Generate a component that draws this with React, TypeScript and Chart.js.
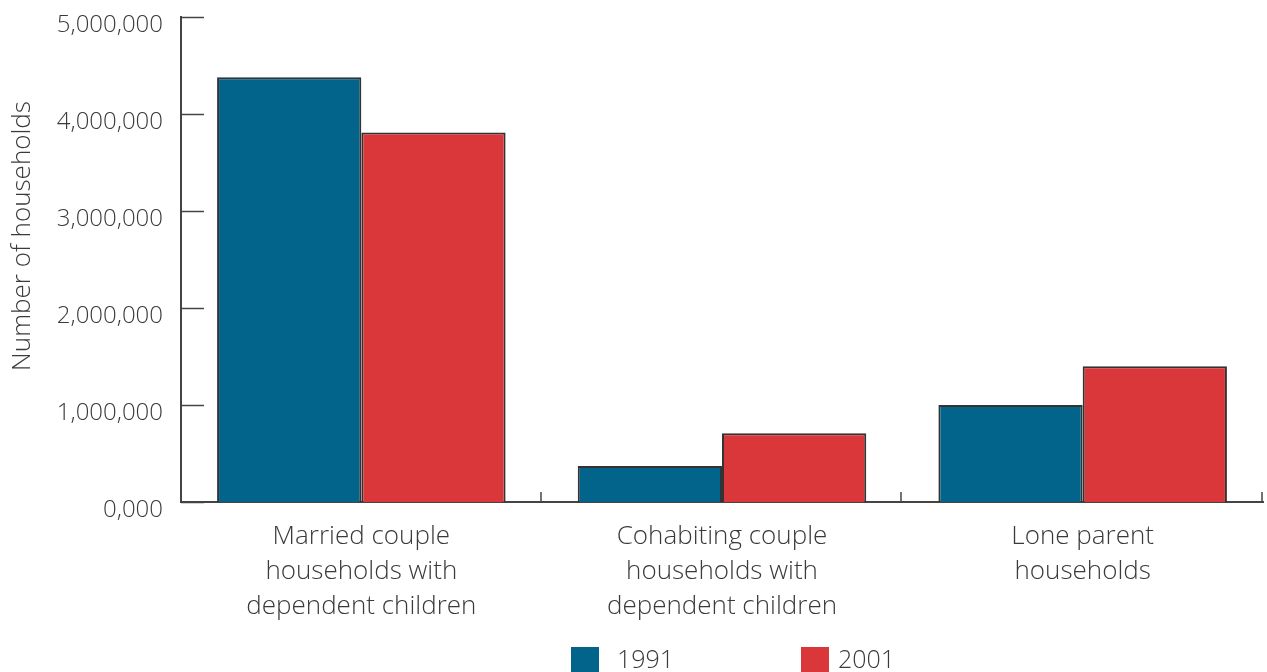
import React, { useEffect, useRef } from "react";
import { Chart, registerables } from "chart.js";

Chart.register(...registerables);

const categories: string[][] = [
  ["Married couple", "households with", "dependent children"],
  ["Cohabiting couple", "households with", "dependent children"],
  ["Lone parent", "households"],
];
const series1991: number[] = [4380000, 370000, 1000000];
const series2001: number[] = [3810000, 710000, 1400000];
const seriesNames: string[] = ["1991", "2001"];
const yTickLabels: string[] = ["0,000", "1,000,000", "2,000,000", "3,000,000", "4,000,000", "5,000,000"];
const yTitle = "Number of households";

const BLUE = "#02638B";
const RED = "#DA373B";
const AXIS = "#444444";
const TEXT = "#3a3a3a";
const FONT = "'Open Sans', 'DejaVu Sans', sans-serif";

const innerTicks = {
  id: "innerTicks",
  afterDraw(chart: any) {
    const ctx = chart.ctx;
    const area = chart.chartArea;
    const y = chart.scales.y;
    const x = chart.scales.x;
    ctx.save();
    ctx.strokeStyle = AXIS;
    ctx.lineWidth = 1.5;
    y.ticks.forEach((_t: any, i: number) => {
      const py = Math.round(y.getPixelForTick(i)) + 0.5;
      ctx.beginPath();
      ctx.moveTo(area.left, py);
      ctx.lineTo(area.left + 23, py);
      ctx.stroke();
    });
    const n = categories.length;
    const half = (x.getPixelForValue(1) - x.getPixelForValue(0)) / 2;
    for (let i = 0; i < n; i++) {
      const px = Math.round(x.getPixelForValue(i) + half) - 1;
      ctx.beginPath();
      ctx.moveTo(px, area.bottom);
      ctx.lineTo(px, area.bottom - 10);
      ctx.stroke();
    }
    // y-axis title
    ctx.save();
    ctx.translate(23, 236);
    ctx.rotate(-Math.PI / 2);
    ctx.font = `300 26px ${FONT}`;
    ctx.fillStyle = TEXT;
    ctx.textAlign = "center";
    ctx.textBaseline = "middle";
    ctx.fillText(yTitle, 0, 0);
    ctx.restore();
    // legend
    const colors = [BLUE, RED];
    const boxX = [571, 801];
    const textX = [617, 838];
    ctx.font = `300 25px ${FONT}`;
    ctx.textBaseline = "middle";
    ctx.textAlign = "left";
    for (let i = 0; i < seriesNames.length; i++) {
      ctx.fillStyle = colors[i];
      ctx.fillRect(boxX[i], 647, 28, 26);
      ctx.fillStyle = TEXT;
      ctx.fillText(seriesNames[i], textX[i], 661);
    }
    ctx.restore();
  },
};

export default function App() {
  const ref = useRef<HTMLCanvasElement>(null);
  useEffect(() => {
    document.body.style.margin = "0";
    const chart = new Chart(ref.current as HTMLCanvasElement, {
      type: "bar",
      data: {
        labels: categories,
        datasets: [
          {
            label: seriesNames[0],
            data: series1991,
            backgroundColor: BLUE,
            borderColor: "#333333",
            borderWidth: 2,
            barPercentage: 1.0,
            categoryPercentage: 0.8,
          },
          {
            label: seriesNames[1],
            data: series2001,
            backgroundColor: RED,
            borderColor: "#333333",
            borderWidth: 2,
            barPercentage: 1.0,
            categoryPercentage: 0.8,
          },
        ],
      },
      options: {
        responsive: false,
        animation: false,
        layout: { padding: { top: 17, right: 4, left: 0, bottom: 0 } },
        plugins: {
          legend: { display: false },
          tooltip: { enabled: false },
        },
        scales: {
          x: {
            grid: { display: false, drawTicks: false },
            border: { display: true, color: AXIS, width: 2 },
            ticks: {
              color: TEXT,
              font: { family: FONT, size: 26, weight: "300", lineHeight: 1.346 },
              padding: 17,
              maxRotation: 0,
              autoSkip: false,
            },
            afterFit: (s: any) => {
              s.height = 170;
            },
          },
          y: {
            min: 0,
            max: 5000000,
            grid: { display: false, drawTicks: false },
            border: { display: true, color: AXIS, width: 2 },
            ticks: {
              stepSize: 1000000,
              color: TEXT,
              font: { family: FONT, size: 24, weight: "300" },
              padding: 18,
              labelOffset: 8,
              callback: (_v: any, i: number) => yTickLabels[i],
            },
            title: { display: false, text: yTitle },
            afterFit: (s: any) => {
              s.width = 181;
              s.paddingTop = 0;
              s.paddingBottom = 0;
            },
          },
        },
      },
      plugins: [innerTicks],
    });
    return () => chart.destroy();
  }, []);
  return (
    <div style={{ position: "absolute", left: 0, top: 0, width: 1267, height: 672 }}>
      <canvas ref={ref} width={1267} height={672} />
    </div>
  );
}
